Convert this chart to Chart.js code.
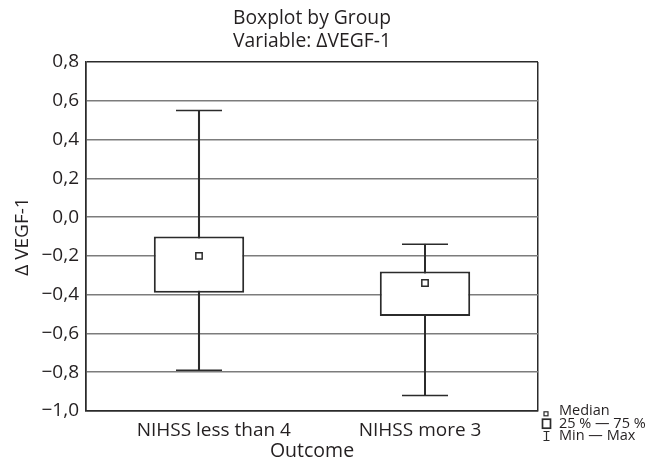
<!DOCTYPE html>
<html><head><meta charset="utf-8">
<script src="https://cdn.jsdelivr.net/npm/chart.js@4.4.1/dist/chart.umd.min.js"></script>
<style>html,body{margin:0;padding:0;background:#fff;overflow:hidden;}</style>
</head><body>
<canvas id="c" width="649" height="461" style="display:block;width:649px;height:461px"></canvas>
<script>
const categories = ['NIHSS less than 4', 'NIHSS more 3'];
const minValues = [-0.79, -0.92];
const q1Values = [-0.39, -0.51];
const medianValues = [-0.20, -0.34];
const q3Values = [-0.10, -0.28];
const maxValues = [0.55, -0.14];
const yTickValues = [-1.0, -0.8, -0.6, -0.4, -0.2, 0.0, 0.2, 0.4, 0.6, 0.8];
const titleLines = ['Boxplot by Group', 'Variable: \u0394VEGF-1'];
const xAxisTitle = 'Outcome';
const yAxisTitle = '\u0394 VEGF-1';
const legendLabels = ['Median', '25 % \u2014 75 %', 'Min \u2014 Max'];

const FONT = "'Open Sans', 'Noto Sans', sans-serif";
const TEXT = '#231f20';
const DARK = '#2b2b2b';

const fmt = v => {
  const s = Math.abs(v).toFixed(1).replace('.', ',');
  return (v < -1e-9 ? '\u2212' : '') + s;
};
// the reference places its category labels slightly off-centre
const xLabelPad = ['      ', '  '];

const legendPlugin = {
  id: 'boxLegend',
  afterDraw(chart) {
    const ctx = chart.ctx;
    const a = chart.chartArea;
    const sx = a.right + 8;
    const tx = a.right + 21;
    const rows = [a.bottom + 0.3, a.bottom + 12.7, a.bottom + 25];
    ctx.save();
    ctx.font = "14.5px " + FONT;
    ctx.fillStyle = TEXT;
    ctx.textBaseline = 'middle';
    ctx.textAlign = 'left';
    legendLabels.forEach((t, i) => ctx.fillText(t, tx, rows[i]));
    ctx.strokeStyle = DARK;
    // median symbol
    ctx.lineWidth = 1.2;
    ctx.strokeRect(sx - 2, rows[0] + 0.5, 4, 4);
    // box symbol
    ctx.lineWidth = 1.7;
    ctx.strokeRect(sx - 3.5, rows[1] - 4.5, 8, 9);
    // whisker symbol
    ctx.lineWidth = 1.2;
    ctx.beginPath();
    ctx.moveTo(sx - 2.5, rows[2] - 4.5); ctx.lineTo(sx + 3.5, rows[2] - 4.5);
    ctx.moveTo(sx + 0.5, rows[2] - 4.5); ctx.lineTo(sx + 0.5, rows[2] + 4.5);
    ctx.moveTo(sx - 2.5, rows[2] + 4.5); ctx.lineTo(sx + 3.5, rows[2] + 4.5);
    ctx.stroke();
    ctx.restore();
  }
};

new Chart(document.getElementById('c'), {
  data: {
    labels: categories,
    datasets: [
      {
        type: 'bar', label: 'Whisker',
        data: categories.map((c, i) => [minValues[i], maxValues[i]]),
        backgroundColor: DARK, borderWidth: 0, barThickness: 1.4, grouped: false, order: 4
      },
      {
        type: 'bar', label: '25 % \u2014 75 %',
        data: categories.map((c, i) => [q1Values[i], q3Values[i]]),
        backgroundColor: '#ffffff', borderColor: DARK, borderWidth: 2, borderSkipped: false,
        barPercentage: 0.4, categoryPercentage: 1.0, grouped: false, order: 3
      },
      {
        type: 'line', label: 'Max', data: maxValues, showLine: false,
        pointStyle: 'line', pointRadius: 23, pointBorderColor: DARK, pointBorderWidth: 1.4, order: 2
      },
      {
        type: 'line', label: 'Min', data: minValues, showLine: false,
        pointStyle: 'line', pointRadius: 23, pointBorderColor: DARK, pointBorderWidth: 1.4, order: 2
      },
      {
        type: 'line', label: 'Median', data: medianValues, showLine: false,
        pointStyle: 'rect', pointRadius: 4.5, pointBackgroundColor: '#ffffff',
        pointBorderColor: DARK, pointBorderWidth: 1.5, order: 1
      }
    ]
  },
  options: {
    responsive: false,
    animation: false,
    events: [],
    layout: { padding: { left: 0, right: 111, top: 0, bottom: 0 } },
    plugins: {
      legend: { display: false },
      tooltip: { enabled: false },
      title: {
        display: true, text: titleLines, fullSize: false, color: TEXT,
        font: { family: FONT, size: 19.3, weight: 'normal', lineHeight: '23px' },
        padding: { top: 7.5, bottom: 8.5 }
      }
    },
    scales: {
      x: {
        type: 'category', offset: true,
        grid: {
          display: true, offset: true, drawTicks: false, lineWidth: 1.5,
          color: c => (c.index === 1 ? 'rgba(0,0,0,0)' : DARK)
        },
        border: { display: true, color: DARK, width: 1.5 },
        ticks: {
          color: TEXT, font: { family: FONT, size: 19 }, padding: 8, maxRotation: 0, autoSkip: false,
          callback: (v, i) => (i === 0 ? xLabelPad[0] + categories[i] : categories[i] + xLabelPad[1])
        },
        title: { display: true, text: xAxisTitle, color: TEXT, font: { family: FONT, size: 19.5, lineHeight: 1 }, padding: 0 },
        afterFit: s => { s.height = 50; }
      },
      y: {
        type: 'linear', min: -1.0, max: 0.8,
        afterBuildTicks: s => { s.ticks = yTickValues.map(v => ({ value: v })); },
        grid: {
          drawTicks: false, lineWidth: 1.5,
          color: c => (c.tick && (Math.abs(c.tick.value - 0.8) < 1e-6 || Math.abs(c.tick.value + 1.0) < 1e-6) ? DARK : '#7c7c7c')
        },
        border: { display: true, color: DARK, width: 1.5 },
        ticks: { color: TEXT, font: { family: FONT, size: 19 }, padding: 7, callback: v => fmt(v) },
        title: { display: true, text: yAxisTitle, color: TEXT, font: { family: FONT, size: 19, lineHeight: 1 }, padding: { top: 13, bottom: 0 } },
        afterFit: s => { s.width = 86; }
      }
    }
  },
  plugins: [legendPlugin]
});
</script>
</body></html>
